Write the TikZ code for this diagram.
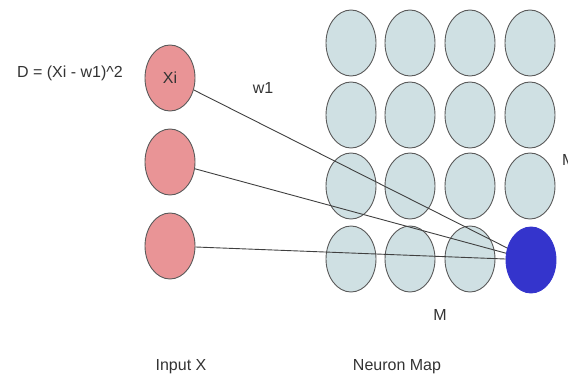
\documentclass[tikz,border=0pt]{standalone}
\usepackage{fontspec}
\setmainfont{Liberation Sans}
\usetikzlibrary{shapes.geometric}
\definecolor{inpink}{RGB}{233,148,150}
\definecolor{mapgray}{RGB}{207,224,227}
\definecolor{winblue}{RGB}{52,52,204}
\definecolor{edgegray}{RGB}{90,90,90}
\begin{document}
\begin{tikzpicture}[x=1pt, y=-1pt,
		neuron/.style={ellipse, draw=edgegray, line width=0.9pt, minimum width=50pt, minimum height=66pt, inner sep=0pt},
		lbl/.style={font=\fontsize{16}{18}\selectfont, text=black!80}]
		\useasboundingbox (0,0) rectangle (568,378);
		
		%input nodes
		\node[neuron, fill=inpink] (x1) at (170, 78) {};
		\node[neuron, fill=inpink] (x2) at (170, 162) {};
		\node[neuron, fill=inpink] (x3) at (170, 246) {};
		\node[lbl] at (x1) {Xi};
		
		%neuron map
		\foreach \c/\x in {1/351, 2/410, 3/470, 4/530}{
			\foreach \r/\y in {1/43, 2/115, 3/186, 4/259}{
				\ifnum\c\r=44\else
				\node[neuron, fill=mapgray] (n\c\r) at (\x, \y) {};
				\fi
			}
		}
		\node[neuron, draw=winblue, fill=winblue] (bmu) at (531, 260) {};
		
		\foreach \i in {x1, x2, x3}{
			\draw[black!75, line width=0.9pt] (\i) -- (bmu);
		}
		
		\node[lbl] (dist) at (70, 73) {D = (Xi - w1)\textasciicircum 2};
		\node[lbl] (wone) at (263, 88) {w1};
		\node[lbl] (mbot) at (440, 315) {M};
		\node[lbl, anchor=west, inner sep=0pt] (mright) at (562, 160) {M};
		\node[lbl] (inx) at (181, 367) {Input X};
		\node[lbl] (nmap) at (397, 367) {Neuron Map};
\end{tikzpicture}
\end{document}
